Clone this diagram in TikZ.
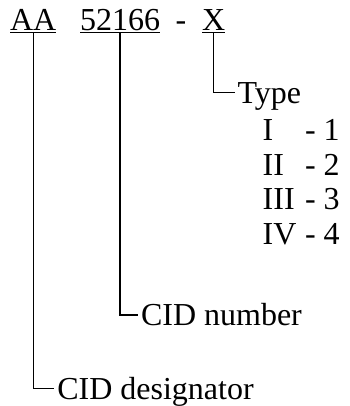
\documentclass[tikz,border=0pt]{standalone}
\usepackage{fontspec}
\setmainfont{Liberation Serif}
\usetikzlibrary{positioning}

\begin{document}
\begin{tikzpicture}[x=1pt, y=-1pt, font=\fontsize{32}{38}\selectfont,
    code/.style={anchor=base west, inner xsep=0pt, inner ysep=2.2pt,
                 text depth=0pt, outer sep=0pt},
    lbl/.style={anchor=base west, inner xsep=3pt, inner ysep=0pt,
                text height=21.2pt, text depth=0pt, outer sep=0pt},
    entry/.style={anchor=base west, inner sep=0pt},
    wire/.style={line width=1.2pt, draw=black}]
  \useasboundingbox (0,0) rectangle (349,406);

  % part number
  \node[code] (aa)  at (10,30.5)    {AA};
  \node[code] (num) at (80,30.5)    {52166};
  \node[code] (sep) at (175.7,30.5) {-};
  \node[code] (x)   at (202,30.5)   {X};
  \foreach \n in {aa,num,x} {
    \draw[wire] (\n.south west) -- (\n.south east);
  }

  % type list
  \node[lbl] (type) at (234.5,103.5) {Type};
  \foreach \r/\d [count=\i] in {I/1,II/2,III/3,IV/4} {
    \node[entry] (r\i) at (262.5,{106+34.5*\i}) {\r};
    \node[entry] (d\i) at (304.8,{106+34.5*\i}) {- \d};
  }

  \node[lbl] (cidnum) at (138,325.5) {CID number};
  \node[lbl] (ciddes) at (54.3,399)  {CID designator};

  \draw[wire] (x.south)   |- (type.west);
  \draw[wire] (num.south) |- (cidnum.west);
  \draw[wire] (aa.south)  |- (ciddes.west);

\end{tikzpicture}
\end{document}
